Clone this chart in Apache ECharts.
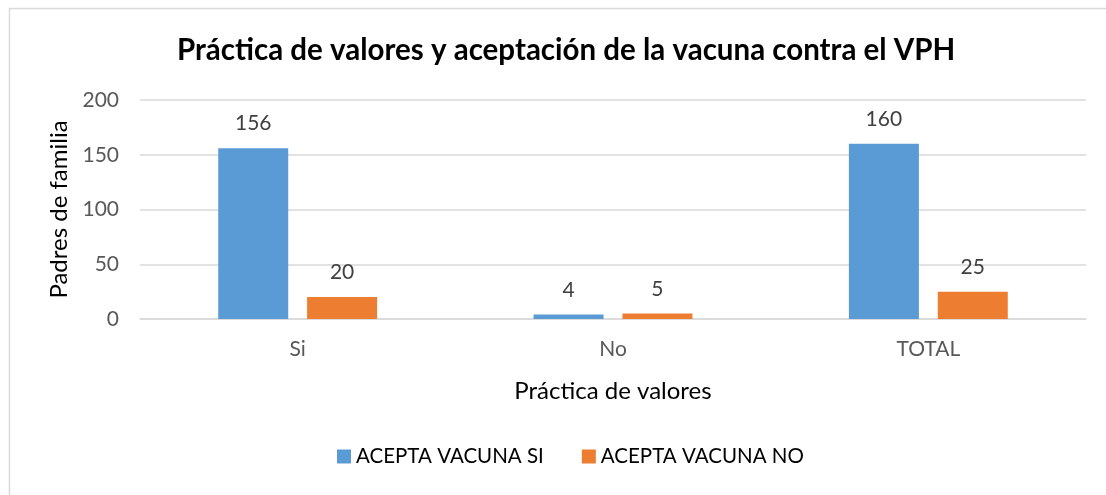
<!DOCTYPE html>
<html>
<head>
<meta charset="utf-8">
<script src="https://cdn.jsdelivr.net/npm/echarts@6/dist/echarts.min.js"></script>
<style>
  html, body { margin: 0; padding: 0; background: #fff; }
  #chart { width: 1106px; height: 495px; }
</style>
</head>
<body>
<div id="chart"></div>
<script>
const categories = ['Si', 'No', 'TOTAL']
const aceptaSi = [156, 4, 160]
const aceptaNo = [20, 5, 25]
const yTicks = { min: 0, max: 200, interval: 50 }

const chart = echarts.init(document.getElementById('chart'))
const font = 'Lato, "Open Sans", sans-serif'

const barLabel = {
  show: true,
  position: 'top',
  distance: 14,
  color: '#404040',
  fontSize: 21,
  fontFamily: font
}

chart.setOption({
  animation: false,
  textStyle: { fontFamily: font },
  graphic: [{
    type: 'rect',
    left: 7,
    top: 6,
    shape: { width: 1200, height: 600 },
    style: { fill: 'none', stroke: '#d9d9d9', lineWidth: 1.5 },
    silent: true
  }],
  title: {
    text: 'Práctica de valores y aceptación de la vacuna contra el VPH',
    left: 172,
    top: 30,
    textStyle: { fontFamily: font, fontSize: 29.5, fontWeight: 'bold', color: '#000' }
  },
  legend: {
    bottom: 23,
    left: 332,
    itemWidth: 14,
    itemHeight: 14,
    itemGap: 38,
    icon: 'rect',
    textStyle: { fontFamily: font, fontSize: 20.5, color: '#000' },
    data: ['ACEPTA VACUNA SI', 'ACEPTA VACUNA NO']
  },
  grid: { left: 140, right: 20, top: 100, bottom: 176 },
  xAxis: {
    type: 'category',
    data: categories,
    name: 'Práctica de valores',
    nameLocation: 'middle',
    nameGap: 60,
    nameTextStyle: { fontSize: 24, color: '#000', fontFamily: font },
    axisLine: { lineStyle: { color: '#d9d9d9', width: 1.5 } },
    axisTick: { show: false },
    axisLabel: { color: '#595959', fontSize: 21, margin: 20, fontFamily: font },
    splitLine: { show: false }
  },
  yAxis: {
    type: 'value',
    min: yTicks.min,
    max: yTicks.max,
    interval: yTicks.interval,
    name: 'Padres de familia',
    nameLocation: 'middle',
    nameGap: 66,
    nameTextStyle: { fontSize: 24, color: '#000', fontFamily: font },
    axisLine: { show: false },
    axisTick: { show: false },
    axisLabel: { color: '#595959', fontSize: 21, margin: 21, fontFamily: font },
    splitLine: { lineStyle: { color: '#d9d9d9', width: 1.5 } }
  },
  series: [
    {
      name: 'ACEPTA VACUNA SI',
      type: 'bar',
      data: aceptaSi,
      barWidth: 70,
      barGap: '27%',
      itemStyle: { color: '#5b9bd5' },
      label: barLabel
    },
    {
      name: 'ACEPTA VACUNA NO',
      type: 'bar',
      data: aceptaNo,
      barWidth: 70,
      itemStyle: { color: '#ed7d31' },
      label: barLabel
    }
  ]
})
</script>
</body>
</html>
